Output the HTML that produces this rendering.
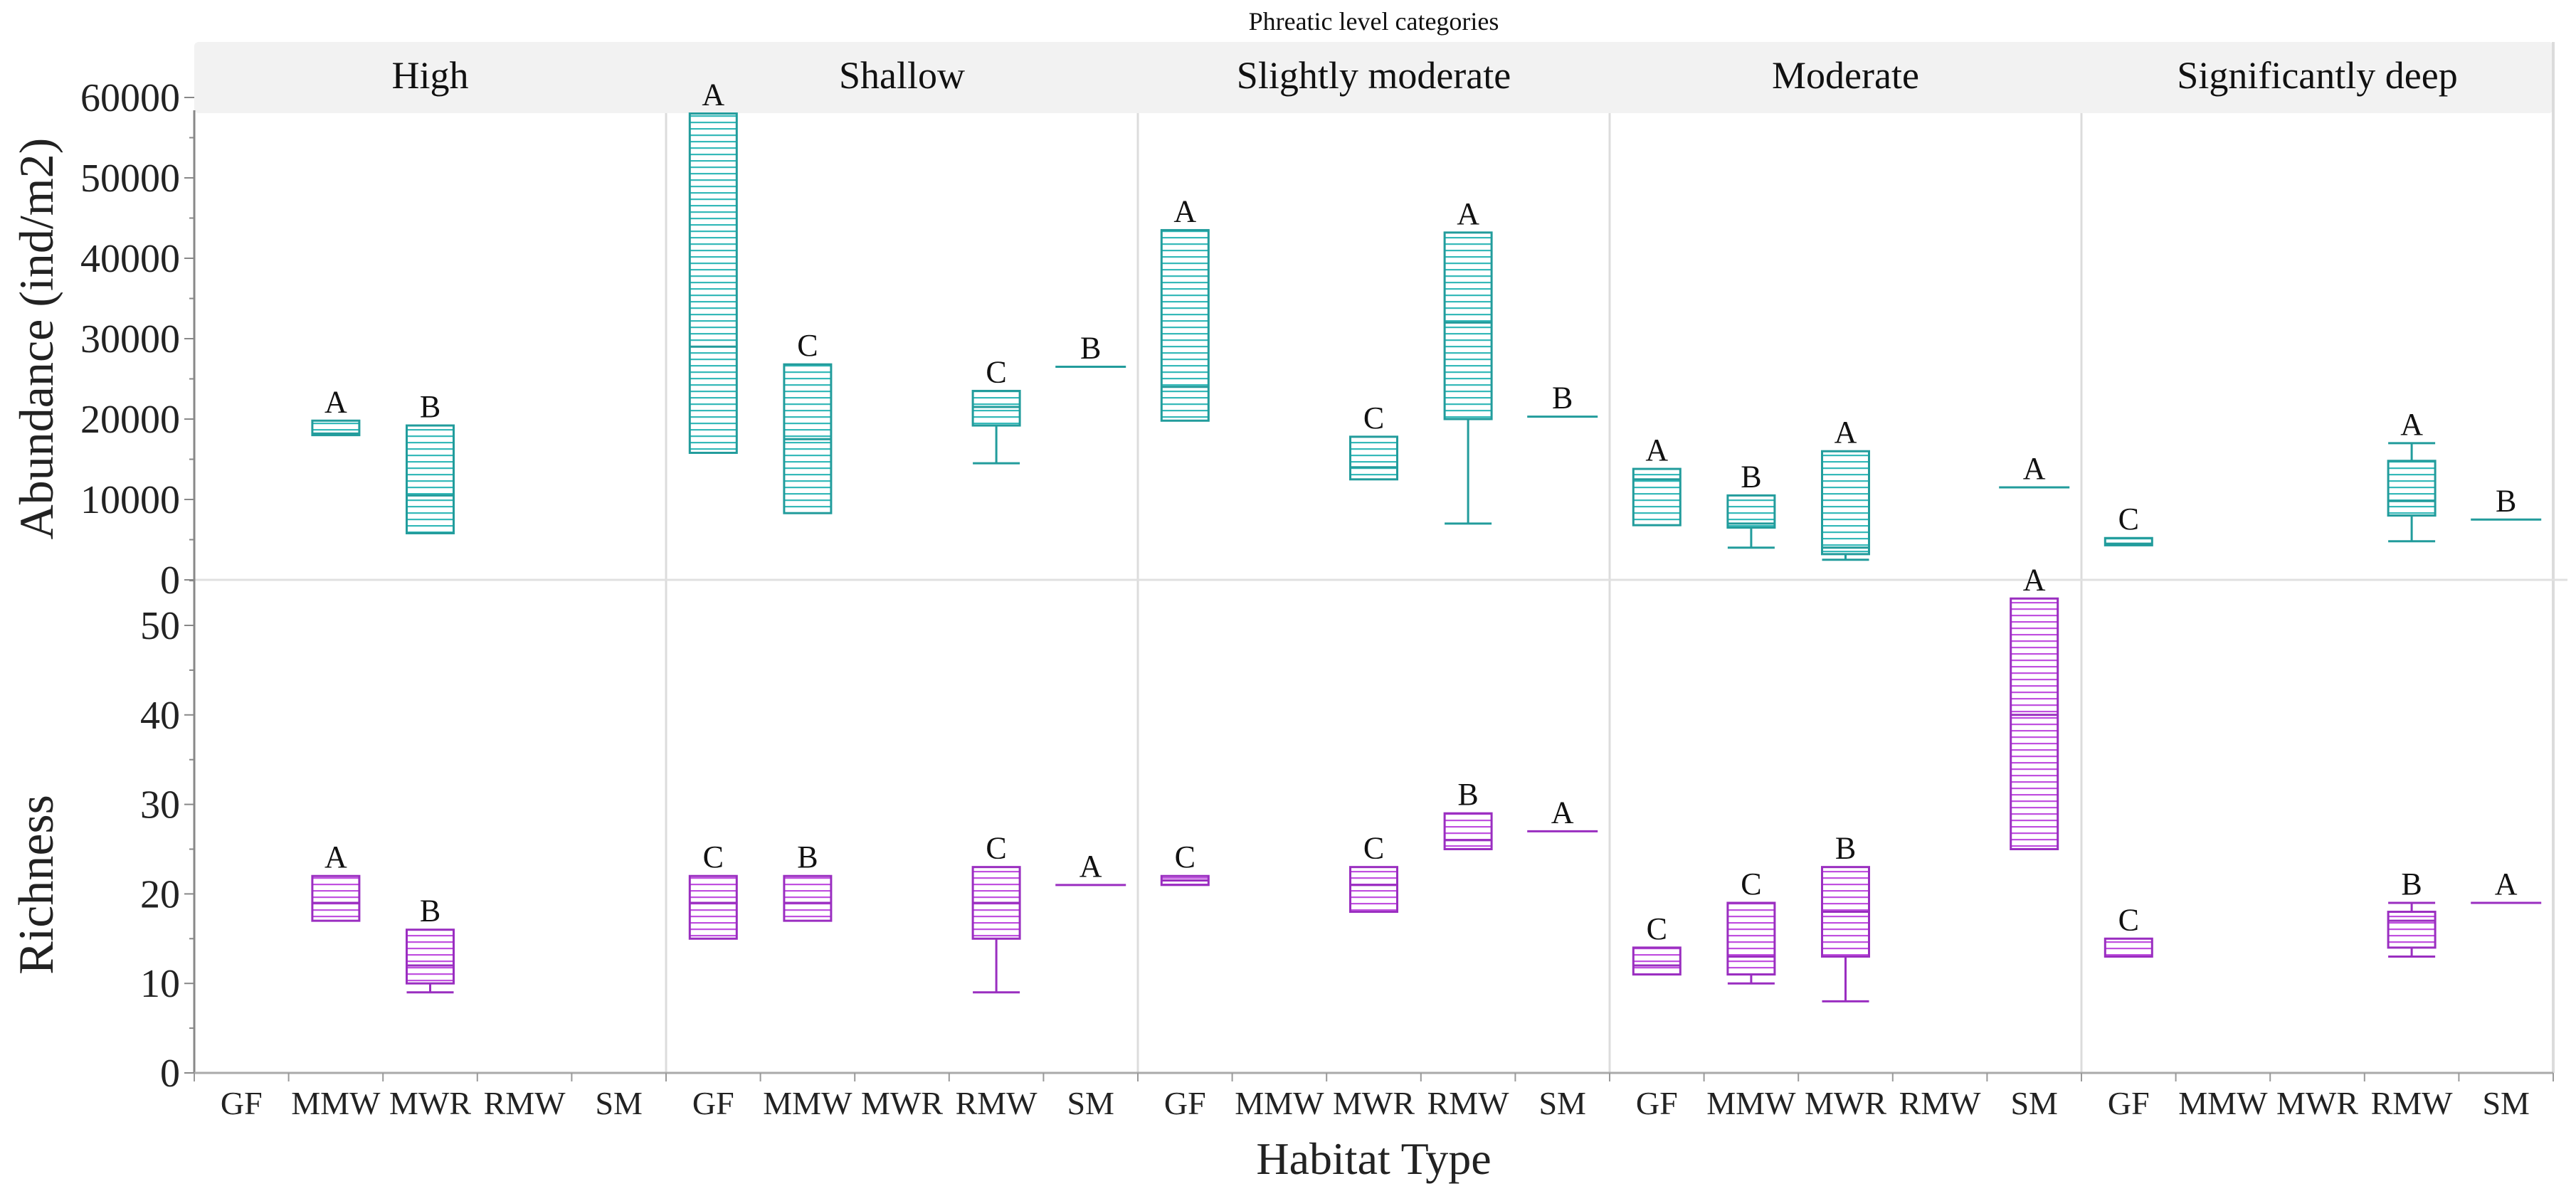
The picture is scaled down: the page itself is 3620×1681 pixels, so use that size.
<!DOCTYPE html>
<html><head><meta charset="utf-8">
<style>
html,body{margin:0;padding:0;background:#fff;}
svg{display:block;font-family:"Liberation Serif",serif;}
</style></head>
<body>
<svg id="chart" width="3620" height="1681" viewBox="0 0 3620 1681" xmlns="http://www.w3.org/2000/svg">
<defs>
<pattern id="hatchA" patternUnits="userSpaceOnUse" width="10" height="9"><rect width="10" height="9" fill="#fff"/><rect y="0" width="10" height="2.2" fill="#35b9b9"/></pattern>
<pattern id="hatchR" patternUnits="userSpaceOnUse" width="10" height="9"><rect width="10" height="9" fill="#fff"/><rect y="0" width="10" height="2.2" fill="#c050e0"/></pattern>
</defs>
<g id="layer"></g>
</svg>
<script>
const panels = ["High","Shallow","Slightly moderate","Moderate","Significantly deep"];
const habitats = ["GF","MMW","MWR","RMW","SM"];
// abundance boxes: [panel, habitat, whiskerLow, q1, median, q3, whiskerHigh, letter]
const abundance = [
 [0,1,18000,18000,18200,19800,19800,"A"],
 [0,2,5800,5800,10500,19200,19200,"B"],
 [1,0,15800,15800,29000,58000,58000,"A"],
 [1,1,8300,8300,17500,26800,26800,"C"],
 [1,3,14500,19200,21500,23500,23500,"C"],
 [1,4,26500,26500,26500,26500,26500,"B"],
 [2,0,19800,19800,24000,43500,43500,"A"],
 [2,2,12500,12500,14000,17800,17800,"C"],
 [2,3,7000,20000,32000,43200,43200,"A"],
 [2,4,20300,20300,20300,20300,20300,"B"],
 [3,0,6800,6800,12500,13800,13800,"A"],
 [3,1,4000,6500,7000,10500,10500,"B"],
 [3,2,2500,3200,4000,16000,16000,"A"],
 [3,4,11500,11500,11500,11500,11500,"A"],
 [4,0,4300,4300,4500,5200,5200,"C"],
 [4,3,4800,8000,9800,14800,17000,"A"],
 [4,4,7500,7500,7500,7500,7500,"B"]
];
const richness = [
 [0,1,17,17,19,22,22,"A"],
 [0,2,9,10,12,16,16,"B"],
 [1,0,15,15,19,22,22,"C"],
 [1,1,17,17,19,22,22,"B"],
 [1,3,9,15,19,23,23,"C"],
 [1,4,21,21,21,21,21,"A"],
 [2,0,21,21,21.5,22,22,"C"],
 [2,2,18,18,21,23,23,"C"],
 [2,3,25,25,26,29,29,"B"],
 [2,4,27,27,27,27,27,"A"],
 [3,0,11,11,12,14,14,"C"],
 [3,1,10,11,13,19,19,"C"],
 [3,2,8,13,18,23,23,"B"],
 [3,4,25,25,40,53,53,"A"],
 [4,0,13,13,13,15,15,"C"],
 [4,3,13,14,17,18,19,"B"],
 [4,4,19,19,19,19,19,"A"]
];
const abundTicks = [0,10000,20000,30000,40000,50000,60000];
const richTicks = [0,10,20,30,40,50];

const NS="http://www.w3.org/2000/svg";
const layer=document.getElementById('layer');
function mk(tag,attrs,parent){const e=document.createElementNS(NS,tag);for(const k in attrs)e.setAttribute(k,attrs[k]);(parent||layer).appendChild(e);return e;}
const X0=273,X1=3588,PW=(X1-X0)/5,SW=PW/5;
const yA=v=>815-(v/60000)*(815-137);
const yR=v=>1508-(v/50)*(1508-879);
const xC=(p,h)=>X0+p*PW+h*SW+SW/2;

let hb=mk('rect',{x:X0,y:59,width:X1-X0,height:100,fill:'#f2f2f2',rx:6});


let tt=mk('text',{x:(X0+X1)/2,y:42,'font-size':36,'text-anchor':'middle',fill:'#111'});tt.textContent='Phreatic level categories';


panels.forEach((p,i)=>{
 const t=mk('text',{x:X0+i*PW+PW/2,y:124,'font-size':54,'text-anchor':'middle',fill:'#111'});t.textContent=p;
 
 
 if(i>0){const l=mk('line',{x1:X0+i*PW,x2:X0+i*PW,y1:159,y2:1508,stroke:'#dcdcdc','stroke-width':3});
 
 }
});
mk('line',{x1:X1,x2:X1,y1:59,y2:1508,stroke:'#dcdcdc','stroke-width':4});
let hl=mk('line',{x1:X0,x2:X1+20,y1:815,y2:815,stroke:'#e0e0e0','stroke-width':3});


let ya=mk('line',{x1:X0,x2:X0,y1:155,y2:1508,stroke:'#888','stroke-width':3});


let xa=mk('line',{x1:X0,x2:X1,y1:1508,y2:1508,stroke:'#aaa','stroke-width':3});


abundTicks.forEach(v=>{
 mk('line',{x1:X0-14,x2:X0,y1:yA(v),y2:yA(v),stroke:'#888','stroke-width':2});
 const t=mk('text',{x:X0-20,y:yA(v)+19,'font-size':56,'text-anchor':'end',fill:'#222'});t.textContent=v;
 
 
 if(v<60000) mk('line',{x1:X0-7,x2:X0,y1:yA(v+5000),y2:yA(v+5000),stroke:'#888','stroke-width':2});
});
richTicks.forEach(v=>{
 mk('line',{x1:X0-14,x2:X0,y1:yR(v),y2:yR(v),stroke:'#888','stroke-width':2});
 const t=mk('text',{x:X0-20,y:yR(v)+19,'font-size':56,'text-anchor':'end',fill:'#222'});t.textContent=v;
 
 
 mk('line',{x1:X0-7,x2:X0,y1:yR(v+5),y2:yR(v+5),stroke:'#888','stroke-width':2});
});
let at=mk('text',{transform:'translate(74,'+((137+815)/2)+') rotate(-90)','font-size':68,'text-anchor':'middle',fill:'#222'});at.textContent='Abundance (ind/m2)';


let rt=mk('text',{transform:'translate(74,'+((879+1508)/2+50)+') rotate(-90)','font-size':70,'text-anchor':'middle',fill:'#222'});rt.textContent='Richness';


for(let p=0;p<5;p++){
 for(let h=0;h<=5;h++){mk('line',{x1:X0+p*PW+h*SW,x2:X0+p*PW+h*SW,y1:1508,y2:1520,stroke:'#999','stroke-width':2});}
 habitats.forEach((hab,h)=>{
  const t=mk('text',{x:xC(p,h),y:1566,'font-size':46,'text-anchor':'middle',fill:'#222'});t.textContent=hab;
  
  
 });
}
let xt=mk('text',{x:(X0+X1)/2,y:1650,'font-size':64,'text-anchor':'middle',fill:'#222'});xt.textContent='Habitat Type';



function drawBoxes(data,yf,fill,stroke,name){
 data.forEach(d=>{
  const [p,h,wl,q1,med,q3,wh,letter]=d;
  const cx=xC(p,h),bw=66;
  const g=mk('g',{});
  
  
  if(wl<q1){mk('line',{x1:cx,x2:cx,y1:yf(q1),y2:yf(wl),stroke:stroke,'stroke-width':3},g);mk('line',{x1:cx-bw/2,x2:cx+bw/2,y1:yf(wl),y2:yf(wl),stroke:stroke,'stroke-width':3},g);}
  if(wh>q3){mk('line',{x1:cx,x2:cx,y1:yf(q3),y2:yf(wh),stroke:stroke,'stroke-width':3},g);mk('line',{x1:cx-bw/2,x2:cx+bw/2,y1:yf(wh),y2:yf(wh),stroke:stroke,'stroke-width':3},g);}
  if(q3>q1){
   mk('rect',{x:cx-bw/2,y:yf(q3),width:bw,height:yf(q1)-yf(q3),fill:fill,stroke:stroke,'stroke-width':3},g);
   mk('line',{x1:cx-bw/2,x2:cx+bw/2,y1:yf(med),y2:yf(med),stroke:stroke,'stroke-width':3},g);
  } else {
   mk('line',{x1:cx-bw*0.75,x2:cx+bw*0.75,y1:yf(med),y2:yf(med),stroke:stroke,'stroke-width':3},g);
  }
  const t=mk('text',{x:cx,y:yf(wh)-12,'font-size':44,'text-anchor':'middle',fill:'#111'},g);t.textContent=letter;
 });
}
drawBoxes(abundance,yA,'url(#hatchA)','#229c9c','abundance-box');
drawBoxes(richness,yR,'url(#hatchR)','#9a2ec0','richness-box');
</script>
</body></html>
